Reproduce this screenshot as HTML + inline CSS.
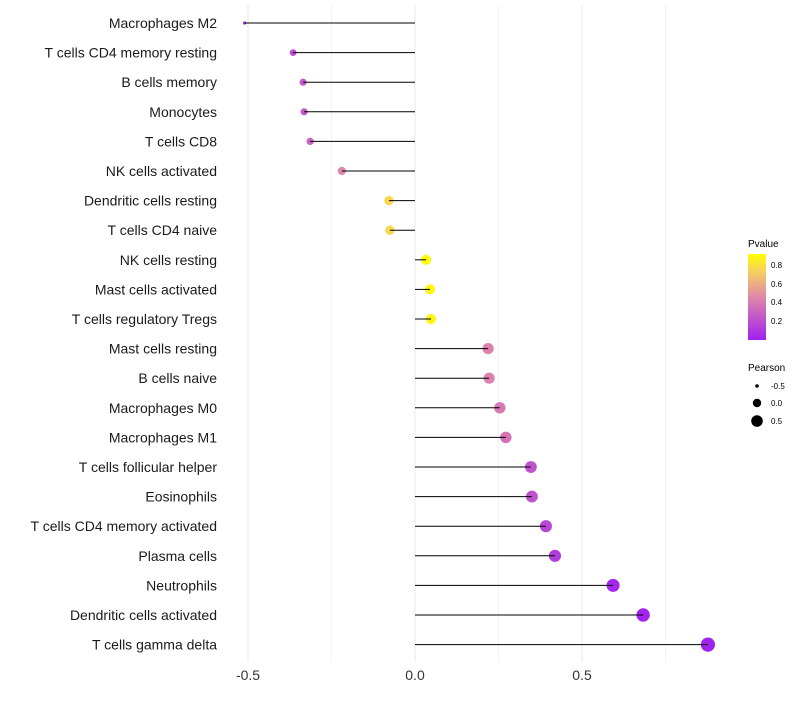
<!DOCTYPE html>
<html><head><meta charset="utf-8"><style>
body{margin:0;background:#fff;font-family:"Liberation Sans",sans-serif}
svg text{font-family:"Liberation Sans",sans-serif}
</style></head><body>
<svg id="c" width="800" height="700">
<defs><linearGradient id="pg" x1="0" y1="1" x2="0" y2="0">
<stop offset="0" stop-color="#a020f0"/><stop offset="0.5" stop-color="#e088a8"/><stop offset="0.8" stop-color="#f6d060"/><stop offset="1" stop-color="#ffff00"/></linearGradient></defs>
<g id="grid"></g><g id="pts"></g><g id="marks"></g><g id="labels"></g>
<g>
<text x="748" y="247" font-size="10">Pvalue</text>
<rect x="748" y="254" width="18" height="86" fill="url(#pg)"/>
<text x="771" y="268" font-size="8">0.8</text><text x="771" y="287" font-size="8">0.6</text>
<text x="771" y="305" font-size="8">0.4</text><text x="771" y="324" font-size="8">0.2</text>
</g>
<g>
<text x="748" y="371" font-size="10">Pearson</text>
<circle cx="757" cy="386" r="1.8"/><text x="771" y="389" font-size="8">-0.5</text>
<circle cx="757" cy="403" r="4.2"/><text x="771" y="406" font-size="8">0.0</text>
<circle cx="757" cy="421" r="5.8"/><text x="771" y="424" font-size="8">0.5</text>
</g>
</svg>
<script>
const categories=["Macrophages M2","T cells CD4 memory resting","B cells memory","Monocytes","T cells CD8","NK cells activated","Dendritic cells resting","T cells CD4 naive","NK cells resting","Mast cells activated","T cells regulatory  Tregs ","Mast cells resting","B cells naive","Macrophages M0","Macrophages M1","T cells follicular helper","Eosinophils","T cells CD4 memory activated","Plasma cells","Neutrophils","Dendritic cells activated","T cells gamma delta"];
const pearson=[-0.51,-0.365,-0.335,-0.332,-0.314,-0.219,-0.078,-0.075,0.033,0.045,0.048,0.219,0.222,0.254,0.272,0.347,0.350,0.392,0.419,0.593,0.683,0.877];
const pvalue=[0.05,0.2,0.25,0.25,0.3,0.45,0.75,0.75,0.9,0.87,0.86,0.42,0.42,0.38,0.36,0.22,0.22,0.17,0.12,0.03,0.02,0.005];
const xTicks=[-0.5,0.0,0.5];
const xTickLabels=["-0.5","0.0","0.5"];
const NS="http://www.w3.org/2000/svg";
const x=v=>415+v*334;
const y=i=>23+i*29.6;
const pmin=Math.min(...pearson),pmax=Math.max(...pearson);
const r=v=>1.6+5.5*Math.sqrt((v-pmin)/(pmax-pmin));
function col(p){const t=Math.min(1,p/0.9);const st=[[0,[160,32,240]],[0.5,[224,136,168]],[0.8,[246,208,96]],[1,[255,255,0]]];
for(let k=1;k<st.length;k++){if(t<=st[k][0]){const a=st[k-1],b=st[k],f=(t-a[0])/(b[0]-a[0]);return "rgb("+a[1].map((c,j)=>Math.round(c+(b[1][j]-c)*f)).join(",")+")";}}return "rgb(255,255,0)";}
function mk(t,at,p){const e=document.createElementNS(NS,t);for(const k in at)e.setAttribute(k,at[k]);p.appendChild(e);return e;}
const g=document.getElementById("grid"),m=document.getElementById("marks"),pt=document.getElementById("pts"),lb=document.getElementById("labels");
[-0.5,-0.25,0,0.25,0.5,0.75].forEach(v=>{const l=mk("line",{x1:x(v),x2:x(v),y1:5,y2:662,stroke:"#ebebeb","stroke-width":Number.isInteger(v*2)?1.1:0.6},g);

});
xTicks.forEach((v,i)=>{const t=mk("text",{x:x(v),y:680,"font-size":14,"text-anchor":"middle",fill:"#333"},lb);t.textContent=xTickLabels[i];

});
categories.forEach((c,i)=>{
const t=mk("text",{x:217,y:y(i)+5,"font-size":14,"text-anchor":"end",fill:"#1a1a1a"},lb);t.textContent=c;


const d=mk("circle",{cx:x(pearson[i]),cy:y(i),r:r(pearson[i]),fill:col(pvalue[i])},pt);


const l=mk("line",{x1:x(0),x2:x(pearson[i]),y1:y(i),y2:y(i),stroke:"#000","stroke-width":1},m);


});
</script>
</body></html>
